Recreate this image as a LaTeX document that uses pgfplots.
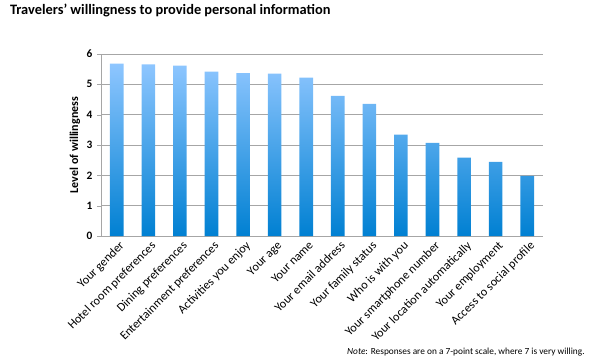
\documentclass[border=0pt]{standalone}
\usepackage{pgfplots}
\pgfplotsset{compat=1.18}
\usepackage{fontspec}
\setmainfont{Carlito}
\definecolor{barbot}{HTML}{0080D2}
\definecolor{barmid}{HTML}{3C94DE}
\definecolor{bartop}{HTML}{8EC6FF}
\definecolor{gridc}{HTML}{A6A6A6}
\begin{document}
\begin{tikzpicture}
\path[use as bounding box] (0,0) rectangle (450pt,-273pt);
\node[anchor=west,font=\bfseries\fontsize{10.8}{12}\selectfont] at (4pt,-8pt) {Travelers’ willingness to provide personal information};
\begin{axis}[
  at={(75.75pt,-177pt)}, anchor=south west,
  scale only axis, width=331.5pt, height=136.5pt,
  xmin=-0.5, xmax=13.5, ymin=0, ymax=6,
  ytick={0,...,6},
  xtick={0,...,13},
  xticklabels={Your gender,Hotel room preferences,Dining preferences,Entertainment preferences,Activities you enjoy,Your age,Your name,Your email address,Your family status,Who is with you,Your smartphone number,Your location automatically,Your employment,Access to social profile},
  x tick label style={rotate=45,anchor=north east,font=\fontsize{9.2}{10}\selectfont,inner sep=1pt, xshift=2pt},
  y tick label style={font=\bfseries\fontsize{8.5}{10}\selectfont},
  /pgf/number format/assume math mode=true,
  major x tick style={draw=none},
  extra x ticks={-0.5,0.5,...,13.5},
  extra x tick labels={},
  extra x tick style={major tick length=3pt, tick style={gridc}, grid=none, tick align=outside},
  ymajorgrids, grid style={gridc, line width=0.6pt},
  axis x line*=bottom, axis y line*=left,
  axis line style={gridc,-},
  y tick style={gridc}, tick align=outside, major tick length=3pt,
  ylabel={\bfseries Level of willingness},
  ylabel style={font=\fontsize{9}{11}\selectfont, yshift=-2pt},
  clip=false,
]
\addplot[ybar, bar width=10.2pt, draw=none, shading=axis, bottom color=barbot, middle color=barmid, top color=bartop] coordinates {
(0,5.68) (1,5.66) (2,5.62) (3,5.42) (4,5.37) (5,5.35) (6,5.22) (7,4.62) (8,4.36) (9,3.34) (10,3.07) (11,2.58) (12,2.44) (13,1.98)};
\end{axis}
\node[anchor=east,font=\fontsize{7}{8}\selectfont] at (442pt,-264pt) {\textit{Note}: Responses are on a 7-point scale, where 7 is very willing.};
\end{tikzpicture}
\end{document}
